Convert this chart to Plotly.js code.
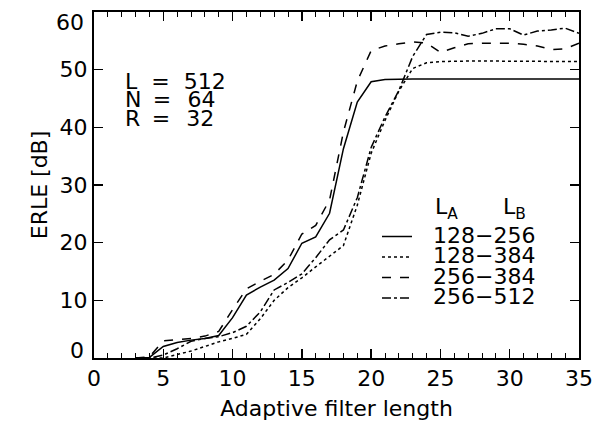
<!DOCTYPE html>
<html><head><meta charset="utf-8">
<script src="https://cdn.plot.ly/plotly-3.0.1.min.js"></script>
<style>html,body{margin:0;padding:0;background:#fff}#chart{width:610px;height:425px}</style>
</head><body><div id="chart"></div>
<script>
// ---- data ----
const filterLength = [3,4,5,6,7,8,9,10,11,12,13,14,15,16,17,18,19,20,21,22,23,24,25,26,27,28,29,30,31,32,33,34,35];
const erle128_256 = [0,0.1,2.0,2.7,3.1,3.4,3.9,7.0,10.9,12.3,13.5,15.5,19.9,21.0,25.1,36.3,44.4,47.9,48.3,48.4,48.4,48.4,48.4,48.4,48.4,48.4,48.4,48.4,48.4,48.4,48.4,48.4,48.4];
const erle128_384 = [0,0,0,0.6,1.2,2.0,2.8,3.4,4.1,6.8,10.0,12.2,13.9,15.8,17.6,19.5,26.5,35.5,41.2,46.3,50.2,51.2,51.4,51.5,51.5,51.5,51.5,51.5,51.4,51.5,51.5,51.4,51.4];
const erle256_384 = [0,0.2,3.0,3.2,3.4,3.8,4.6,8.4,12.0,13.3,14.5,17.0,21.5,23.0,27.4,39.2,48.0,53.3,54.1,54.5,54.8,54.6,53.0,53.8,54.5,54.6,54.6,54.6,54.4,54.1,53.5,53.6,54.6];
const erle256_512 = [0,0,0.5,1.6,2.9,3.4,3.7,4.4,5.5,8.0,11.8,13.1,14.6,17.4,20.5,22.2,27.8,36.5,41.8,46.4,52.3,56.1,56.5,56.4,55.8,56.3,57.1,57.1,56.0,56.7,56.9,57.2,56.3];
const seriesNames = ['128\u2212256','128\u2212384','256\u2212384','256\u2212512'];
const seriesDash = ['solid','dot','dash','dashdot'];
const xTickVals = [0,5,10,15,20,25,30,35];
const yTickVals = [10,20,30,40,50];
const yEdgeLabels = ['0','60'];
const paramRows = ['L\u00A0\u00A0=\u00A0\u00A0512', 'N\u00A0\u2009=\u00A0\u00A0\u200A64', 'R\u00A0\u2009=\u00A0\u00A0\u200A32'];
const legendHeader = ['L<sub>A</sub>', 'L<sub>B</sub>'];
const xTitle = 'Adaptive filter length';
const yTitle = 'ERLE [dB]';

const seriesValues = [erle128_256, erle128_384, erle256_384, erle256_512];
const FONT = 'DejaVu Sans';
const tf = (s) => ({family: FONT, size: s, color: '#000'});

const traces = seriesValues.map((v, i) => ({
  x: filterLength, y: v, name: seriesNames[i], type: 'scatter', mode: 'lines',
  line: {color: '#000', width: 1.5, dash: seriesDash[i]}
}));

// plot area in pixels: left 94, right 579, top 12, bottom 358
const PX = (px) => (px - 94) / 485;
const PY = (py) => (358 - py) / 346;

const annotations = [];
const shapes = [];
// parameter block
const rowY = [81, 99.5, 118];
paramRows.forEach((t, i) => {
  annotations.push({xref:'paper', yref:'paper', x: PX(123), y: PY(rowY[i]), xanchor:'left', yanchor:'middle', text: t, showarrow:false, font: tf(22)});
});
// y edge tick labels (drawn as in the reference, pulled inside the frame height)
annotations.push({xref:'paper', yref:'paper', x: PX(86), y: PY(350), xanchor:'right', yanchor:'middle', text: yEdgeLabels[0], showarrow:false, font: tf(22)});
annotations.push({xref:'paper', yref:'paper', x: PX(86), y: PY(23), xanchor:'right', yanchor:'middle', text: yEdgeLabels[1], showarrow:false, font: tf(22)});
// legend header
annotations.push({xref:'paper', yref:'paper', x: PX(433), y: PY(208), xanchor:'left', yanchor:'middle', text: legendHeader[0], showarrow:false, font: tf(22)});
annotations.push({xref:'paper', yref:'paper', x: PX(501), y: PY(208), xanchor:'left', yanchor:'middle', text: legendHeader[1], showarrow:false, font: tf(22)});
// legend rows
const legY = [235, 255.5, 276, 296.5];
seriesNames.forEach((n, i) => {
  annotations.push({xref:'paper', yref:'paper', x: PX(431), y: PY(legY[i]), xanchor:'left', yanchor:'middle', text: n, showarrow:false, font: tf(22)});
  shapes.push({type:'line', xref:'paper', yref:'paper', x0: PX(382), x1: PX(412), y0: PY(legY[i] + 1.5), y1: PY(legY[i] + 1.5), line:{color:'#000', width:1.5, dash: seriesDash[i]}});
});

const axisCommon = {
  showline: true, linewidth: 2, linecolor: '#000', mirror: 'ticks',
  ticks: 'inside', ticklen: 9, tickwidth: 1.5, tickcolor: '#000',
  showgrid: false, zeroline: false, tickmode: 'array',
  tickfont: tf(22)
};

const layout = {
  width: 610, height: 425,
  margin: {l: 94, r: 31, t: 12, b: 67, pad: 0},
  paper_bgcolor: '#fff', plot_bgcolor: '#fff',
  showlegend: false,
  font: tf(22),
  xaxis: Object.assign({}, axisCommon, {
    range: [0, 35], tickvals: xTickVals,
    minor: {tickmode: 'linear', tick0: 0, dtick: 1, ticks: 'inside', ticklen: 5, tickwidth: 1, tickcolor: '#000', showgrid: false},
    title: {text: xTitle, font: tf(22), standoff: 10}
  }),
  yaxis: Object.assign({}, axisCommon, {
    range: [0, 60], tickvals: yTickVals,
    title: {text: yTitle, font: tf(22), standoff: 6}
  }),
  annotations: annotations,
  shapes: shapes
};

Plotly.newPlot('chart', traces, layout, {staticPlot: true, displayModeBar: false});
</script>
</body></html>
